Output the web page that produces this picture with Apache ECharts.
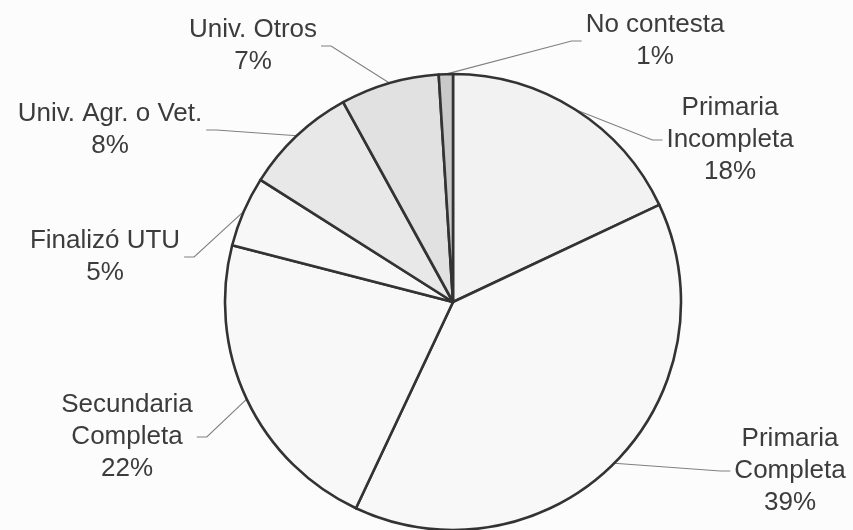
<!DOCTYPE html>
<html><head><meta charset="utf-8">
<script src="https://cdn.jsdelivr.net/npm/echarts@6/dist/echarts.min.js"></script>
<style>html,body{margin:0;padding:0;background:#fcfcfc}#c{width:853px;height:530px}</style>
</head><body><div id="c"></div>
<script>
// Data
const categories = ['Primaria\nIncompleta', 'Primaria\nCompleta', 'Secundaria\nCompleta', 'Finalizó UTU', 'Univ. Agr. o Vet.', 'Univ. Otros', 'No contesta'];
const values = [18, 39, 22, 5, 8, 7, 1];

// Styles / layout
const colors = ['#f2f2f2', '#f8f8f8', '#f8f8f8', '#f7f7f7', '#e8e8e8', '#e1e1e1', '#c9c9c9'];
const labelCenters = [[730, 140], [790, 471], [127, 437], [105, 257], [110, 130], [253, 46], [655, 41]];
const labelSide = ['right', 'right', 'left', 'left', 'left', 'left', 'right'];

const chart = echarts.init(document.getElementById('c'), null, {renderer: 'canvas'});
chart.setOption({
  backgroundColor: '#fcfcfc',
  animation: false,
  series: [{
    type: 'pie',
    center: [453, 302],
    radius: 228,
    startAngle: 90,
    clockwise: true,
    avoidLabelOverlap: false,
    data: categories.map((n, i) => ({name: n, value: values[i], itemStyle: {color: colors[i]}})),
    itemStyle: {borderColor: '#333333', borderWidth: 2.6},
    emphasis: {disabled: true},
    label: {
      show: true,
      position: 'outside',
      formatter: p => p.name + '\n' + p.value + '%',
      fontFamily: '"Liberation Sans", Arial, sans-serif',
      fontSize: 26,
      lineHeight: 32,
      color: '#3c3c3c',
      align: 'center'
    },
    labelLine: {
      show: true,
      length: 10,
      length2: 10,
      smooth: false,
      lineStyle: {color: '#808080', width: 1.1}
    },
    labelLayout: function (p) {
      const i = p.dataIndex;
      const cx = labelCenters[i][0], cy = labelCenters[i][1];
      const w = p.labelRect.width;
      const res = {x: cx, y: cy, align: 'center', verticalAlign: 'middle'};
      if (p.labelLinePoints) {
        const right = labelSide[i] === 'right';
        const ex = right ? cx - w / 2 - 4 : cx + w / 2 + 4;
        const bx = right ? ex - 10 : ex + 10;
        res.labelLinePoints = [p.labelLinePoints[0], [bx, cy], [ex, cy]];
      }
      return res;
    }
  }]
});
</script>
</body></html>
